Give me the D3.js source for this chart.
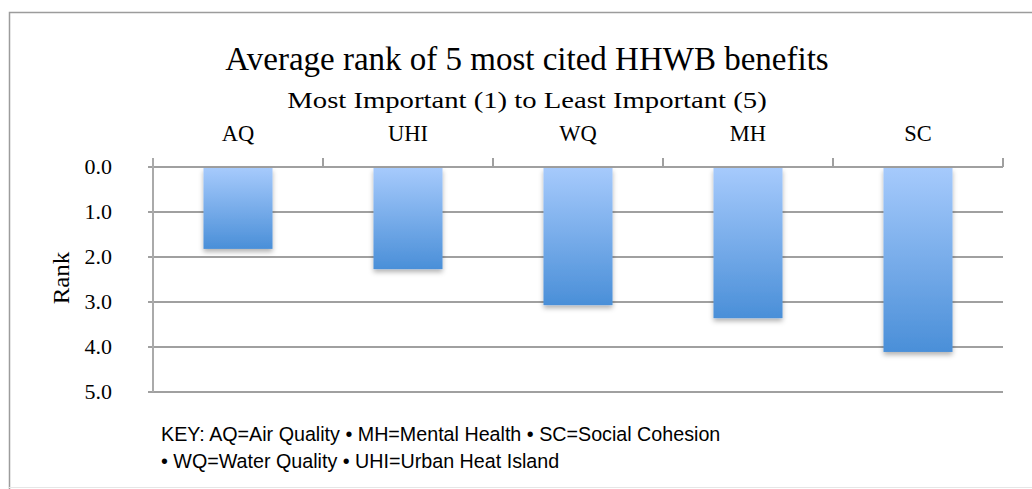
<!DOCTYPE html>
<html><head><meta charset="utf-8">
<script src="https://cdn.jsdelivr.net/npm/d3@7"></script>
<style>body{margin:0;background:#fff}svg{display:block}</style>
</head><body>
<script>
const categories = ["AQ","UHI","WQ","MH","SC"];
const values = [1.82, 2.27, 3.07, 3.36, 4.11];
const yTicks = [0,1,2,3,4,5];
const title = "Average rank of 5 most cited HHWB benefits";
const subtitle = "Most Important (1) to Least Important (5)";
const keyLines = ["KEY: AQ=Air Quality • MH=Mental Health • SC=Social Cohesion","• WQ=Water Quality • UHI=Urban Heat Island"];

(function(){
const W=1032,H=489;
const svg=d3.select("body").append("svg").attr("width",W).attr("height",H);
const defs=svg.append("defs");
const g=defs.append("linearGradient").attr("id","bg").attr("x1",0).attr("y1",0).attr("x2",0).attr("y2",1);
g.append("stop").attr("offset","0%").attr("stop-color","#a6cafc");
g.append("stop").attr("offset","100%").attr("stop-color","#4a8fd8");
const f=defs.append("filter").attr("id","sh").attr("x","-20%").attr("y","-20%").attr("width","140%").attr("height","140%");
f.append("feDropShadow").attr("dx",0).attr("dy",3).attr("stdDeviation",2.5).attr("flood-color","#000").attr("flood-opacity",0.3);

svg.append("path").attr("d",`M9.5,${H}V12.5H${W}`).attr("fill","none").attr("stroke","#9c9c9c").attr("stroke-width",1.5);
svg.append("line").attr("x1",9).attr("x2",W).attr("y1",487.5).attr("y2",487.5).attr("stroke","#e6e6e6");

const pL=153,pR=1003,pT=167,pB=392;
const x=d3.scaleBand().domain(categories).range([pL,pR]).paddingInner(0).paddingOuter(0);
const y=d3.scaleLinear().domain([0,5]).range([pT,pB]);

svg.append("g").selectAll("line").data(yTicks).join("line")
 .attr("x1",pL-5).attr("x2",pR).attr("y1",d=>y(d)).attr("y2",d=>y(d))
 .attr("stroke","#a0a0a0").attr("stroke-width",2);
svg.append("line").attr("x1",pL).attr("x2",pL).attr("y1",pT-9).attr("y2",pB).attr("stroke","#aaaaaa").attr("stroke-width",2);
const bounds=categories.map(c=>x(c)).concat([pR]);
svg.append("g").selectAll("line").data(bounds.slice(1)).join("line")
 .attr("x1",d=>d).attr("x2",d=>d).attr("y1",pT-9).attr("y2",pT).attr("stroke","#a0a0a0").attr("stroke-width",2);

const bw=x.bandwidth()*0.406;
svg.append("g").selectAll("rect").data(values).join("rect")
 .attr("x",(d,i)=>x(categories[i])+x.bandwidth()/2-bw/2)
 .attr("width",bw).attr("y",y(0)+1).attr("height",d=>y(d)-y(0)-1)
 .attr("fill","url(#bg)").attr("filter","url(#sh)");

const serif="'Liberation Serif','DejaVu Serif',serif";
svg.append("g").selectAll("text").data(yTicks).join("text")
 .attr("x",112).attr("y",d=>y(d)+7).attr("text-anchor","end")
 .attr("font-family",serif).attr("font-size",22).attr("fill","#000").text(d=>d.toFixed(1));
svg.append("g").selectAll("text").data(categories).join("text")
 .attr("x",d=>x(d)+x.bandwidth()/2).attr("y",141).attr("text-anchor","middle")
 .attr("font-family",serif).attr("font-size",22.5).attr("fill","#000").text(d=>d);
svg.append("text").attr("transform","translate(69,278) rotate(-90) scale(1.08,1)").attr("text-anchor","middle")
 .attr("font-family",serif).attr("font-size",23).text("Rank");
svg.append("text").attr("x",527).attr("y",70).attr("text-anchor","middle")
 .attr("font-family",serif).attr("font-size",33).text(title);
svg.append("text").attr("transform","translate(527,108) scale(1.195,1)").attr("text-anchor","middle")
 .attr("font-family",serif).attr("font-size",24).text(subtitle);
svg.append("g").selectAll("text").data(keyLines).join("text")
 .attr("x",161).attr("y",(d,i)=>441+i*27)
 .attr("font-family","'Liberation Sans',Arial,sans-serif").attr("font-size",19.7).text(d=>d);
})();
</script>
</body></html>
